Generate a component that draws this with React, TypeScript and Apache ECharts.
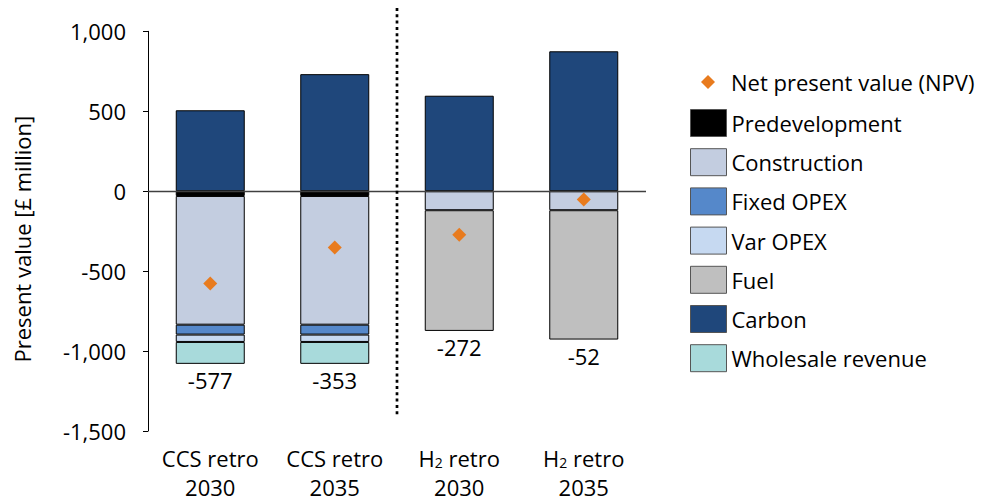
import React, { useEffect, useRef } from "react";
import * as echarts from "echarts";

const categories = ["CCS retro\n2030", "CCS retro\n2035", "H{sub|2} retro\n2030", "H{sub|2} retro\n2035"];
const predevelopment = [-30, -30, null, null];
const construction = [-805, -805, -119, -119];
const fixedOpex = [-62, -62, null, null];
const varOpex = [-46, -46, null, null];
const fuel = [null, null, -755, -809];
const carbon = [506, 732, 597, 875];
const wholesale = [-137, -137, null, null];
const npv = [-577, -353, -272, -52];
const yTicks = { min: -1500, max: 1000, interval: 500 };

const FONT = "Open Sans";
const FS = 22;

export default function App() {
  const ref = useRef<HTMLDivElement>(null);
  useEffect(() => {
    if (!ref.current) return;
    const chart = echarts.init(ref.current, null, { renderer: "svg" });
    const negStacks = [predevelopment, construction, fixedOpex, varOpex, fuel, wholesale];
    const bottoms = categories.map((_, i) =>
      negStacks.reduce((s, arr) => s + ((arr[i] as number) || 0), 0)
    );
    const bar = (name: string, data: (number | null)[], color: string, extra: any = {}) => ({
      name,
      type: "bar",
      stack: "s",
      barWidth: 69,
      data,
      itemStyle: { color, borderColor: "#000", borderWidth: 1 },
      ...extra,
    });
    chart.setOption({
      animation: false,
      textStyle: { fontFamily: FONT },
      grid: { left: 148, right: 335, top: 31.3, bottom: 68.3 },
      xAxis: {
        type: "category",
        data: categories,
        axisLine: { show: false },
        axisTick: { show: false },
        axisLabel: {
          interval: 0,
          margin: 12,
          color: "#000",
          fontSize: FS,
          fontFamily: FONT,
          lineHeight: 29,
          rich: {
            sub: { fontSize: 14, fontFamily: FONT, color: "#000", padding: [10, 0, 0, 0], lineHeight: 29 },
          },
        },
      },
      yAxis: {
        type: "value",
        min: yTicks.min,
        max: yTicks.max,
        interval: yTicks.interval,
        name: "Present value [£ million]",
        nameLocation: "middle",
        nameGap: 115,
        nameTextStyle: { fontSize: FS, color: "#000", fontFamily: FONT, padding: [0, 16, 0, 0] },
        axisLine: { show: true, lineStyle: { color: "#000", width: 1 } },
        axisTick: { show: true, length: 5, lineStyle: { color: "#000" } },
        splitLine: { show: false },
        axisLabel: {
          margin: 22,
          color: "#000",
          fontSize: FS,
          fontFamily: FONT,
          formatter: (v: number) => v.toLocaleString("en-US"),
        },
      },
      legend: [
        {
          orient: "vertical",
          left: 696,
          top: 66,
          itemWidth: 14,
          itemHeight: 14,
          icon: "diamond",
          data: ["Net present value (NPV)"],
          itemStyle: { color: "#E87B1E", opacity: 1 },
          textStyle: { fontSize: FS, color: "#000", fontFamily: FONT, padding: [0, 0, 0, 11] },
        },
        {
          orient: "vertical",
          left: 685,
          top: 104,
          itemWidth: 36,
          itemHeight: 27,
          itemGap: 11.2,
          icon: "rect",
          data: ["Predevelopment", "Construction", "Fixed OPEX", "Var OPEX", "Fuel", "Carbon", "Wholesale revenue"],
          itemStyle: { borderColor: "#555", borderWidth: 1 },
          textStyle: { fontSize: FS, color: "#000", fontFamily: FONT },
        },
      ],
      series: [
        bar("Predevelopment", predevelopment, "#000000"),
        bar("Construction", construction, "#C3CDE0"),
        bar("Fixed OPEX", fixedOpex, "#5588CA"),
        bar("Var OPEX", varOpex, "#C6D9F1"),
        bar("Fuel", fuel, "#BFBFBF"),
        bar("Carbon", carbon, "#1F477B", {
          markLine: {
            silent: true,
            symbol: ["none", "none"],
            label: { show: false },
            lineStyle: { color: "#404040", width: 1.3, type: "solid" },
            data: [{ yAxis: 0 }],
          },
        }),
        bar("Wholesale revenue", wholesale, "#A8DADB"),
        {
          name: "Net present value (NPV)",
          type: "scatter",
          symbol: "diamond",
          symbolSize: 14,
          data: npv,
          itemStyle: { color: "#E87B1E", opacity: 1 },
          z: 5,
        },
        {
          name: "npvLabels",
          type: "scatter",
          symbolSize: 0,
          silent: true,
          itemStyle: { color: "transparent", opacity: 1 },
          data: bottoms.map((b) => b),
          label: {
            show: true,
            position: "bottom",
            distance: 5,
            color: "#000",
            fontSize: FS,
            fontFamily: FONT,
            formatter: (p: any) => String(npv[p.dataIndex]),
          },
        },
      ],
    });
    const x1 = chart.convertToPixel({ xAxisIndex: 0 }, 1) as number;
    const x2 = chart.convertToPixel({ xAxisIndex: 0 }, 2) as number;
    const sx = (x1 + x2) / 2;
    chart.setOption({
      graphic: [
        {
          type: "line",
          shape: { x1: sx, y1: 8, x2: sx, y2: 415 },
          style: { stroke: "#000", lineWidth: 2.7, lineDash: [3, 3.3] },
          z: 10,
        },
      ],
    });
    return () => chart.dispose();
  }, []);
  return (
    <div
      ref={ref}
      style={{ position: "fixed", left: 0, top: 0, width: 981, height: 501, background: "#fff" }}
    />
  );
}
